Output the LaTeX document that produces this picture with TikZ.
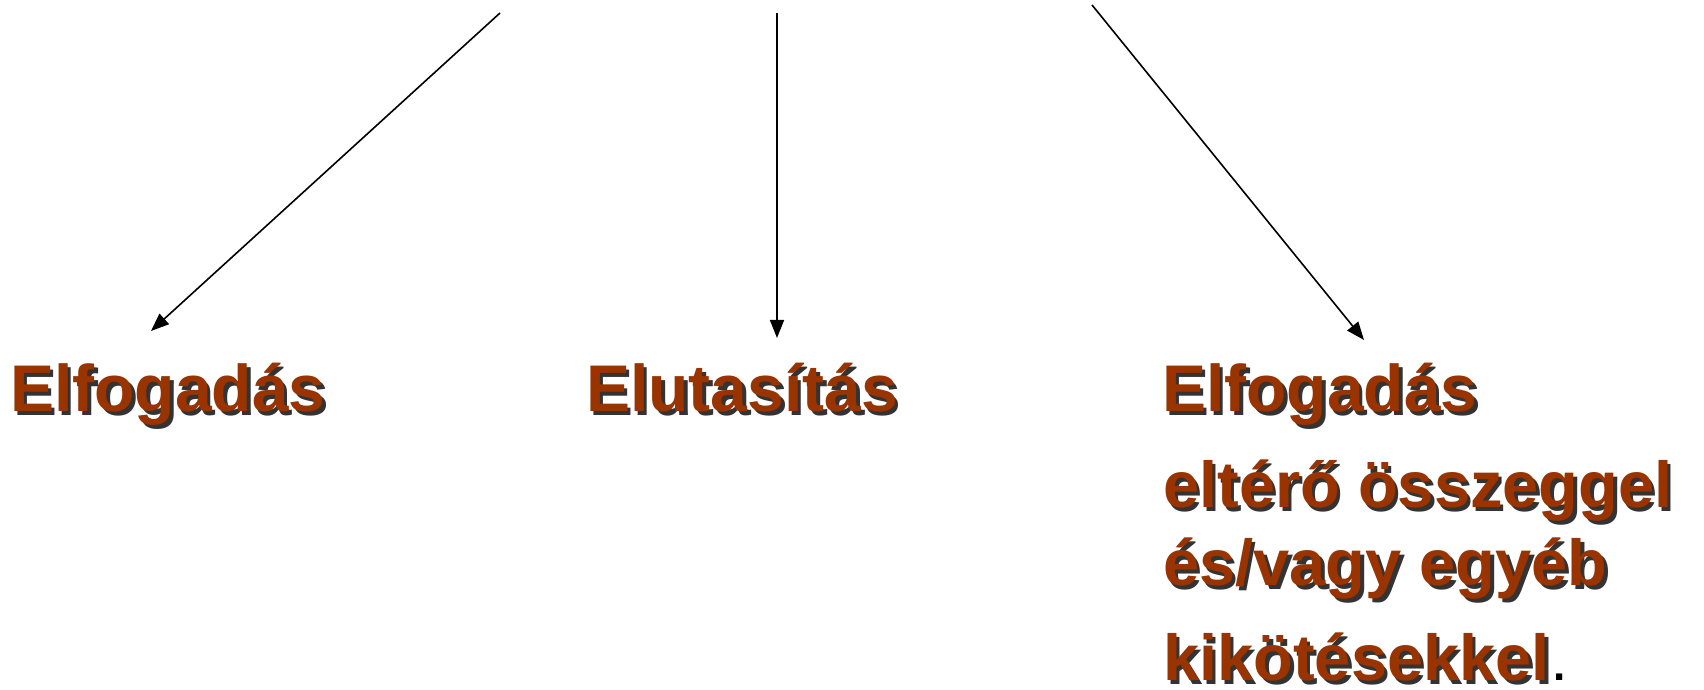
\documentclass[tikz,border=0pt]{standalone}
\usepackage{fontspec}
\setmainfont{Liberation Sans}
\usetikzlibrary{arrows.meta}
\definecolor{txtbrown}{HTML}{993300}
\tikzset{
  conn/.style={line width=1.6pt, -{Triangle[length=18pt,width=14pt]}},
  lbl/.style={anchor=base west, inner sep=0pt, text=txtbrown, font=\fontsize{#1}{70}\selectfont\bfseries},
  lbl/.default=65,
  shd/.style={anchor=base west, inner sep=0pt, text=black, opacity=0.8, font=\fontsize{#1}{70}\selectfont\bfseries},
  shd/.default=65,
}
\newcommand{\shtext}[5]{%
  \node[shd=#5] at (#2+3.5,#3-3.5) {#4};
  \node[lbl=#5] (#1) at (#2,#3) {#4};
}
\begin{document}
\begin{tikzpicture}[x=1pt,y=1pt]
\useasboundingbox (0,0) rectangle (1704,690);
% top free ends
\coordinate (s1) at (500,677);
\coordinate (s2) at (777,677);
\coordinate (s3) at (1092,685);
% arrow end points
\coordinate (e1) at (151,359);
\coordinate (e2) at (777,352);
\coordinate (e3) at (1364,350);
% texts
\shtext{a}{10}{278}{Elfogadás}{66}
\shtext{b}{586}{278}{Elutasítás}{66}
\shtext{c}{1162}{278}{Elfogadás}{66}
\shtext{d}{1163}{182}{eltérő összeggel}{65}
\shtext{e}{1163}{104}{és/vagy egyéb}{65}
\shtext{f}{1163}{9}{kikötésekkel}{65}
\node[anchor=base west, inner sep=0pt, font=\fontsize{44}{48}\selectfont\bfseries] (dot) at ([xshift=3pt]f.base east) {.};
% connectors
\draw[conn] (s1) -- (e1);
\draw[conn] (s2) -- (e2);
\draw[conn] (s3) -- (e3);
\end{tikzpicture}
\end{document}
